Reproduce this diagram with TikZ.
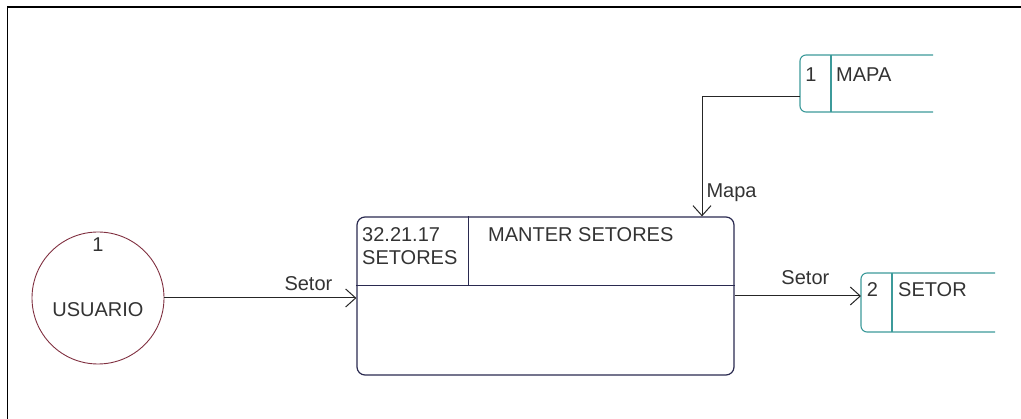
\documentclass[tikz,border=0pt]{standalone}
\usepackage{fontspec}
\setmainfont{Liberation Sans}
\usetikzlibrary{arrows.meta,positioning}
\definecolor{extred}{HTML}{803040}
\definecolor{storeteal}{HTML}{3C9A9A}
\definecolor{procnavy}{HTML}{2A2A50}
\begin{document}
\begin{tikzpicture}[x=1pt, y=-1pt, font=\fontsize{20}{22}\selectfont,
  ext/.style={draw=extred, circle, line width=0.9pt, inner sep=0pt},
  proc/.style={draw=procnavy, line width=1.2pt, rounded corners=8pt, inner sep=0pt},
  storebox/.style={inner sep=0pt, outer sep=0pt},
  store/.style={draw=storeteal, line width=1.1pt},
  flow/.style={draw=black!85, line width=1pt, -{Straight Barb[length=10pt, width=18pt]}},
  txt/.style={inner sep=0pt, text=black!80}]
\useasboundingbox (0,0) rectangle (1021,419);
\draw[line width=2.8pt] (7,7) -- (1021,7);
\draw[line width=1.8pt] (7.5,6) -- (7.5,419);
\node[ext, minimum size=132pt] (usu) at (98,298) {};
\node[txt, anchor=base] (usun) at (98,252) {1};
\node[txt, anchor=base] (usut) at (98,317) {USUARIO};
\node[proc, minimum width=377pt, minimum height=158pt] (mnt) at (545.5,296) {};
\draw[proc, rounded corners=0pt] ([yshift=-69pt]mnt.north west) -- ([yshift=-69pt]mnt.north east);
\draw[proc, rounded corners=0pt] ([xshift=112pt]mnt.north west) -- ([xshift=112pt, yshift=-69pt]mnt.north west);
\node[txt, anchor=base west, align=left] (mntn) at (362,242) {32.21.17};
\node[txt, anchor=base west] (mnts) at (362,265) {SETORES};
\node[txt, anchor=base west] (mntt) at (488,242) {MANTER SETORES};
\node[storebox, minimum width=133pt, minimum height=57pt, anchor=north west] (dmapa) at (800,55) {};
\draw[store, rounded corners=6pt] (dmapa.north east) -- (dmapa.north west) -- (dmapa.south west) -- (dmapa.south east);
\draw[store] ([xshift=31pt]dmapa.north west) -- ([xshift=31pt]dmapa.south west);
\node[txt, anchor=base] (mapan) at (811,82) {1};
\node[txt, anchor=base west] (mapat) at (836,82) {MAPA};
\node[storebox, minimum width=134pt, minimum height=59pt, anchor=north west] (dsetor) at (861,273) {};
\draw[store, rounded corners=6pt] (dsetor.north east) -- (dsetor.north west) -- (dsetor.south west) -- (dsetor.south east);
\draw[store] ([xshift=31pt]dsetor.north west) -- ([xshift=31pt]dsetor.south west);
\node[txt, anchor=base] (setorn) at (872.5,297) {2};
\node[txt, anchor=base west] (setort) at (898,297) {SETOR};
\draw[flow] (usu.east) -- node[pos=0.75, above=6.5pt, txt]{Setor} (mnt.west |- usu.east);
\draw[flow] (mnt.east) -- node[pos=0.56, above=10.5pt, txt]{Setor} (dsetor.west |- mnt.east);
\draw[flow] ([yshift=-13.5pt]dmapa.west) -| node[pos=0.9, right=4pt, txt]{Mapa} ([xshift=156.5pt]mnt.north);
\end{tikzpicture}
\end{document}
